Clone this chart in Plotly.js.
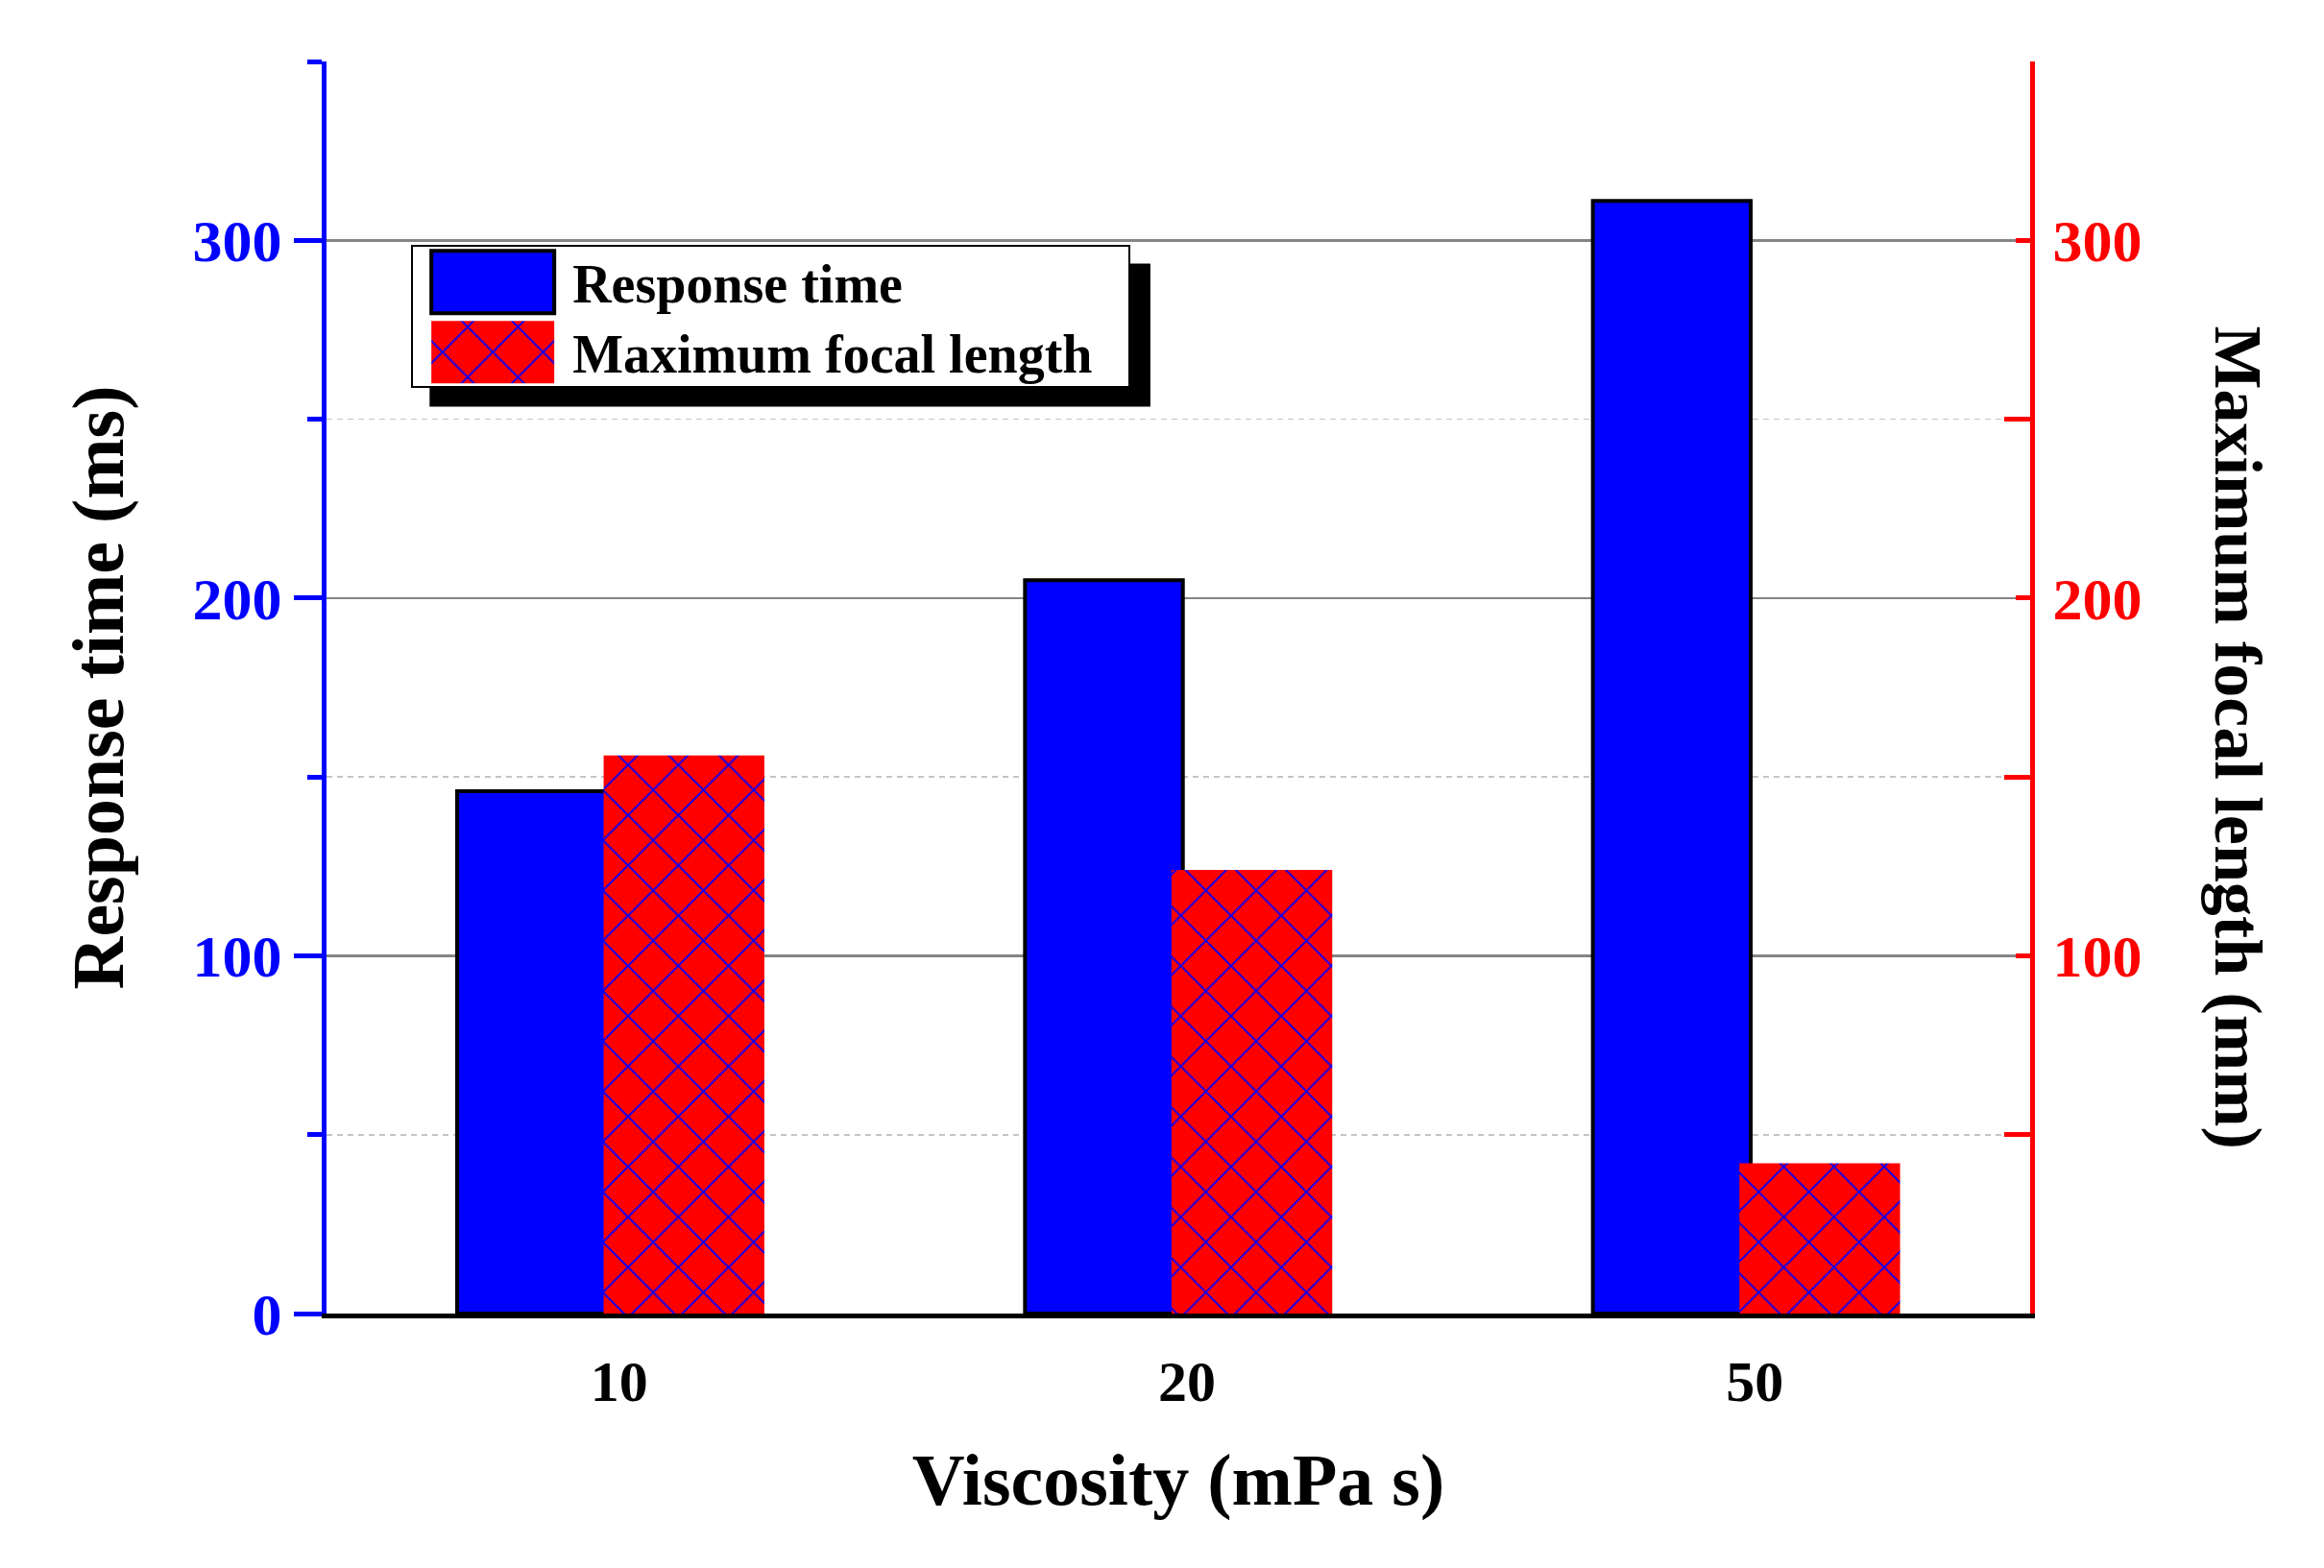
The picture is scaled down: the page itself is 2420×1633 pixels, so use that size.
<!DOCTYPE html>
<html>
<head>
<meta charset="utf-8">
<script src="https://cdn.plot.ly/plotly-3.0.1.min.js"></script>
<style>html,body{margin:0;padding:0;background:#fff}#chart{width:2420px;height:1633px}</style>
</head>
<body>
<div id="chart"></div>
<script>
// ---- data ----
const categories = ['10', '20', '50'];
const categoryIndex = [0, 1, 2];
const responseTime = [146, 205, 311];      // ms (left axis)
const maxFocalLength = [156, 124, 42];     // mm (right axis)
const leftTickVals = [0, 100, 200, 300];
const leftTickText = ['0', '100', '200', '300'];
const rightTickVals = [0, 100, 200, 300];
const rightTickText = ['', '100', '200', '300'];
const minorTickVals = [50, 150, 250, 350];
const minorGridVals = [50, 150, 250];

const F = 'Liberation Serif, Times New Roman, serif';
const gd = document.getElementById('chart');

const data = [
  {
    type: 'bar', name: 'Response time',
    x: categoryIndex, y: responseTime,
    xaxis: 'x', yaxis: 'y',
    offset: -0.27, width: 0.278,
    marker: {color: '#0000ff', line: {color: '#000000', width: 4}}
  },
  {
    type: 'bar', name: 'Maximum focal length',
    x: categoryIndex, y: maxFocalLength,
    xaxis: 'x', yaxis: 'y2',
    offset: -0.012, width: 0.283,
    marker: {
      color: '#ff0000', line: {width: 0},
      pattern: {shape: 'x', fgcolor: '#0000ff', bgcolor: '#ff0000', size: 37, solidity: 0.1, fillmode: 'replace'}
    }
  },
  // empty helper trace so the minor-grid axis (y3) is drawn
  {type: 'scatter', x: [], y: [], xaxis: 'x', yaxis: 'y3', showlegend: false, hoverinfo: 'skip'}
];

const layout = {
  width: 2420, height: 1633,
  margin: {l: 340, r: 306, t: 64, b: 265},
  paper_bgcolor: '#ffffff', plot_bgcolor: '#ffffff',
  barmode: 'overlay',
  showlegend: true,
  legend: {
    x: 0.0497, y: 0.8538, xanchor: 'left', yanchor: 'top',
    bgcolor: '#ffffff', bordercolor: '#000000', borderwidth: 2,
    font: {family: F, size: 56, color: '#000000', weight: 'bold'},
    itemwidth: 156, tracegroupgap: 0, traceorder: 'normal'
  },
  xaxis: {
    range: [-0.5, 2.5],
    tickmode: 'array', tickvals: categoryIndex, ticktext: categories,
    showline: true, linecolor: '#000000', linewidth: 5,
    ticks: '', showgrid: false, zeroline: false,
    tickfont: {family: F, size: 60, color: '#000000', weight: 'bold'},
    ticklabelstandoff: 14, ticklabelshift: 9,
    title: {text: 'Viscosity (mPa s)', font: {family: F, size: 76, color: '#000000', weight: 'bold'}, standoff: 44}
  },
  yaxis: {
    range: [0, 350],
    tickmode: 'array', tickvals: leftTickVals, ticktext: leftTickText,
    showline: true, linecolor: '#0000ff', linewidth: 5,
    ticks: 'outside', ticklen: 29, tickwidth: 5, tickcolor: '#0000ff',
    tickfont: {family: F, size: 62, color: '#0000ff', weight: 'bold'},
    ticklabelstandoff: 0,
    showgrid: true, gridcolor: '#858585', gridwidth: 2.5, zeroline: false,
    minor: {tickmode: 'array', tickvals: minorTickVals, ticks: 'outside', ticklen: 15, tickwidth: 5, tickcolor: '#0000ff', showgrid: false},
    title: {text: 'Response time (ms)', font: {family: F, size: 76, color: '#000000', weight: 'bold'}, standoff: 48}
  },
  yaxis2: {
    overlaying: 'y', side: 'right', range: [0, 350],
    tickmode: 'array', tickvals: rightTickVals, ticktext: rightTickText,
    showline: true, linecolor: '#ff0000', linewidth: 5,
    ticks: 'inside', ticklen: 15, tickwidth: 5, tickcolor: '#ff0000',
    tickfont: {family: F, size: 62, color: '#ff0000', weight: 'bold'},
    ticklabelstandoff: 6,
    showgrid: false, zeroline: false,
    minor: {tickmode: 'array', tickvals: minorTickVals, ticks: 'inside', ticklen: 27, tickwidth: 5, tickcolor: '#ff0000', showgrid: false}
  },
  yaxis3: {
    overlaying: 'y', range: [0, 350], visible: true,
    tickmode: 'array', tickvals: minorGridVals, showticklabels: false, ticks: '',
    showline: false, zeroline: false,
    showgrid: true, gridcolor: '#c4c4c4', gridwidth: 1.6, griddash: '6px,5px'
  },
  shapes: [
    // legend drop shadow
    {type: 'rect', xref: 'paper', yref: 'paper', layer: 'above',
     x0: 0.0605, x1: 0.4836, y0: 0.7243, y1: 0.8385,
     fillcolor: '#000000', line: {width: 0}}
  ],
  annotations: [
    {text: 'Maximum focal length (mm)', xref: 'paper', yref: 'paper',
     x: 1.122, y: 0.4602, xanchor: 'center', yanchor: 'middle',
     textangle: 90, showarrow: false,
     font: {family: F, size: 70, color: '#000000', weight: 'bold'}}
  ]
};

Plotly.newPlot(gd, data, layout, {staticPlot: true, displayModeBar: false}).then(function () {
  var leg = gd.querySelector('.legend');
  if (!leg) return;
  var bg = leg.querySelector('rect.bg');
  // legend box size as in the reference
  if (bg) { bg.setAttribute('width', 747); bg.setAttribute('height', 147); }
  var bgTop = bg ? bg.getBoundingClientRect().top - 1 : 0;

  var patternFill = null;
  gd.querySelectorAll('.barlayer path').forEach(function (p) {
    var f = p.style.fill || '';
    if (!patternFill && f.indexOf('url') >= 0) patternFill = f;
  });
  var rowCenters = [39, 112];
  leg.querySelectorAll('.traces').forEach(function (tr, i) {
    var sym = null;
    tr.querySelectorAll('.legendpoints path').forEach(function (p) {
      p.setAttribute('d', 'M64,32.5H-64V-32.5H64Z');
      if (i === 1 && patternFill) p.style.fill = patternFill;
      sym = p;
    });
    if (sym && bg) {
      var r = sym.getBoundingClientRect();
      var cy = (r.top + r.bottom) / 2 - bgTop;
      var delta = rowCenters[i] - cy;
      var t = tr.getAttribute('transform') || '';
      var m = /translate\(\s*([-\d.eE]+)[\s,]+([-\d.eE]+)\s*\)/.exec(t);
      var x = m ? parseFloat(m[1]) : 0, y = m ? parseFloat(m[2]) : 0;
      tr.setAttribute('transform', 'translate(' + x + ',' + (y + delta) + ')');
    }
  });
});
</script>
</body>
</html>
